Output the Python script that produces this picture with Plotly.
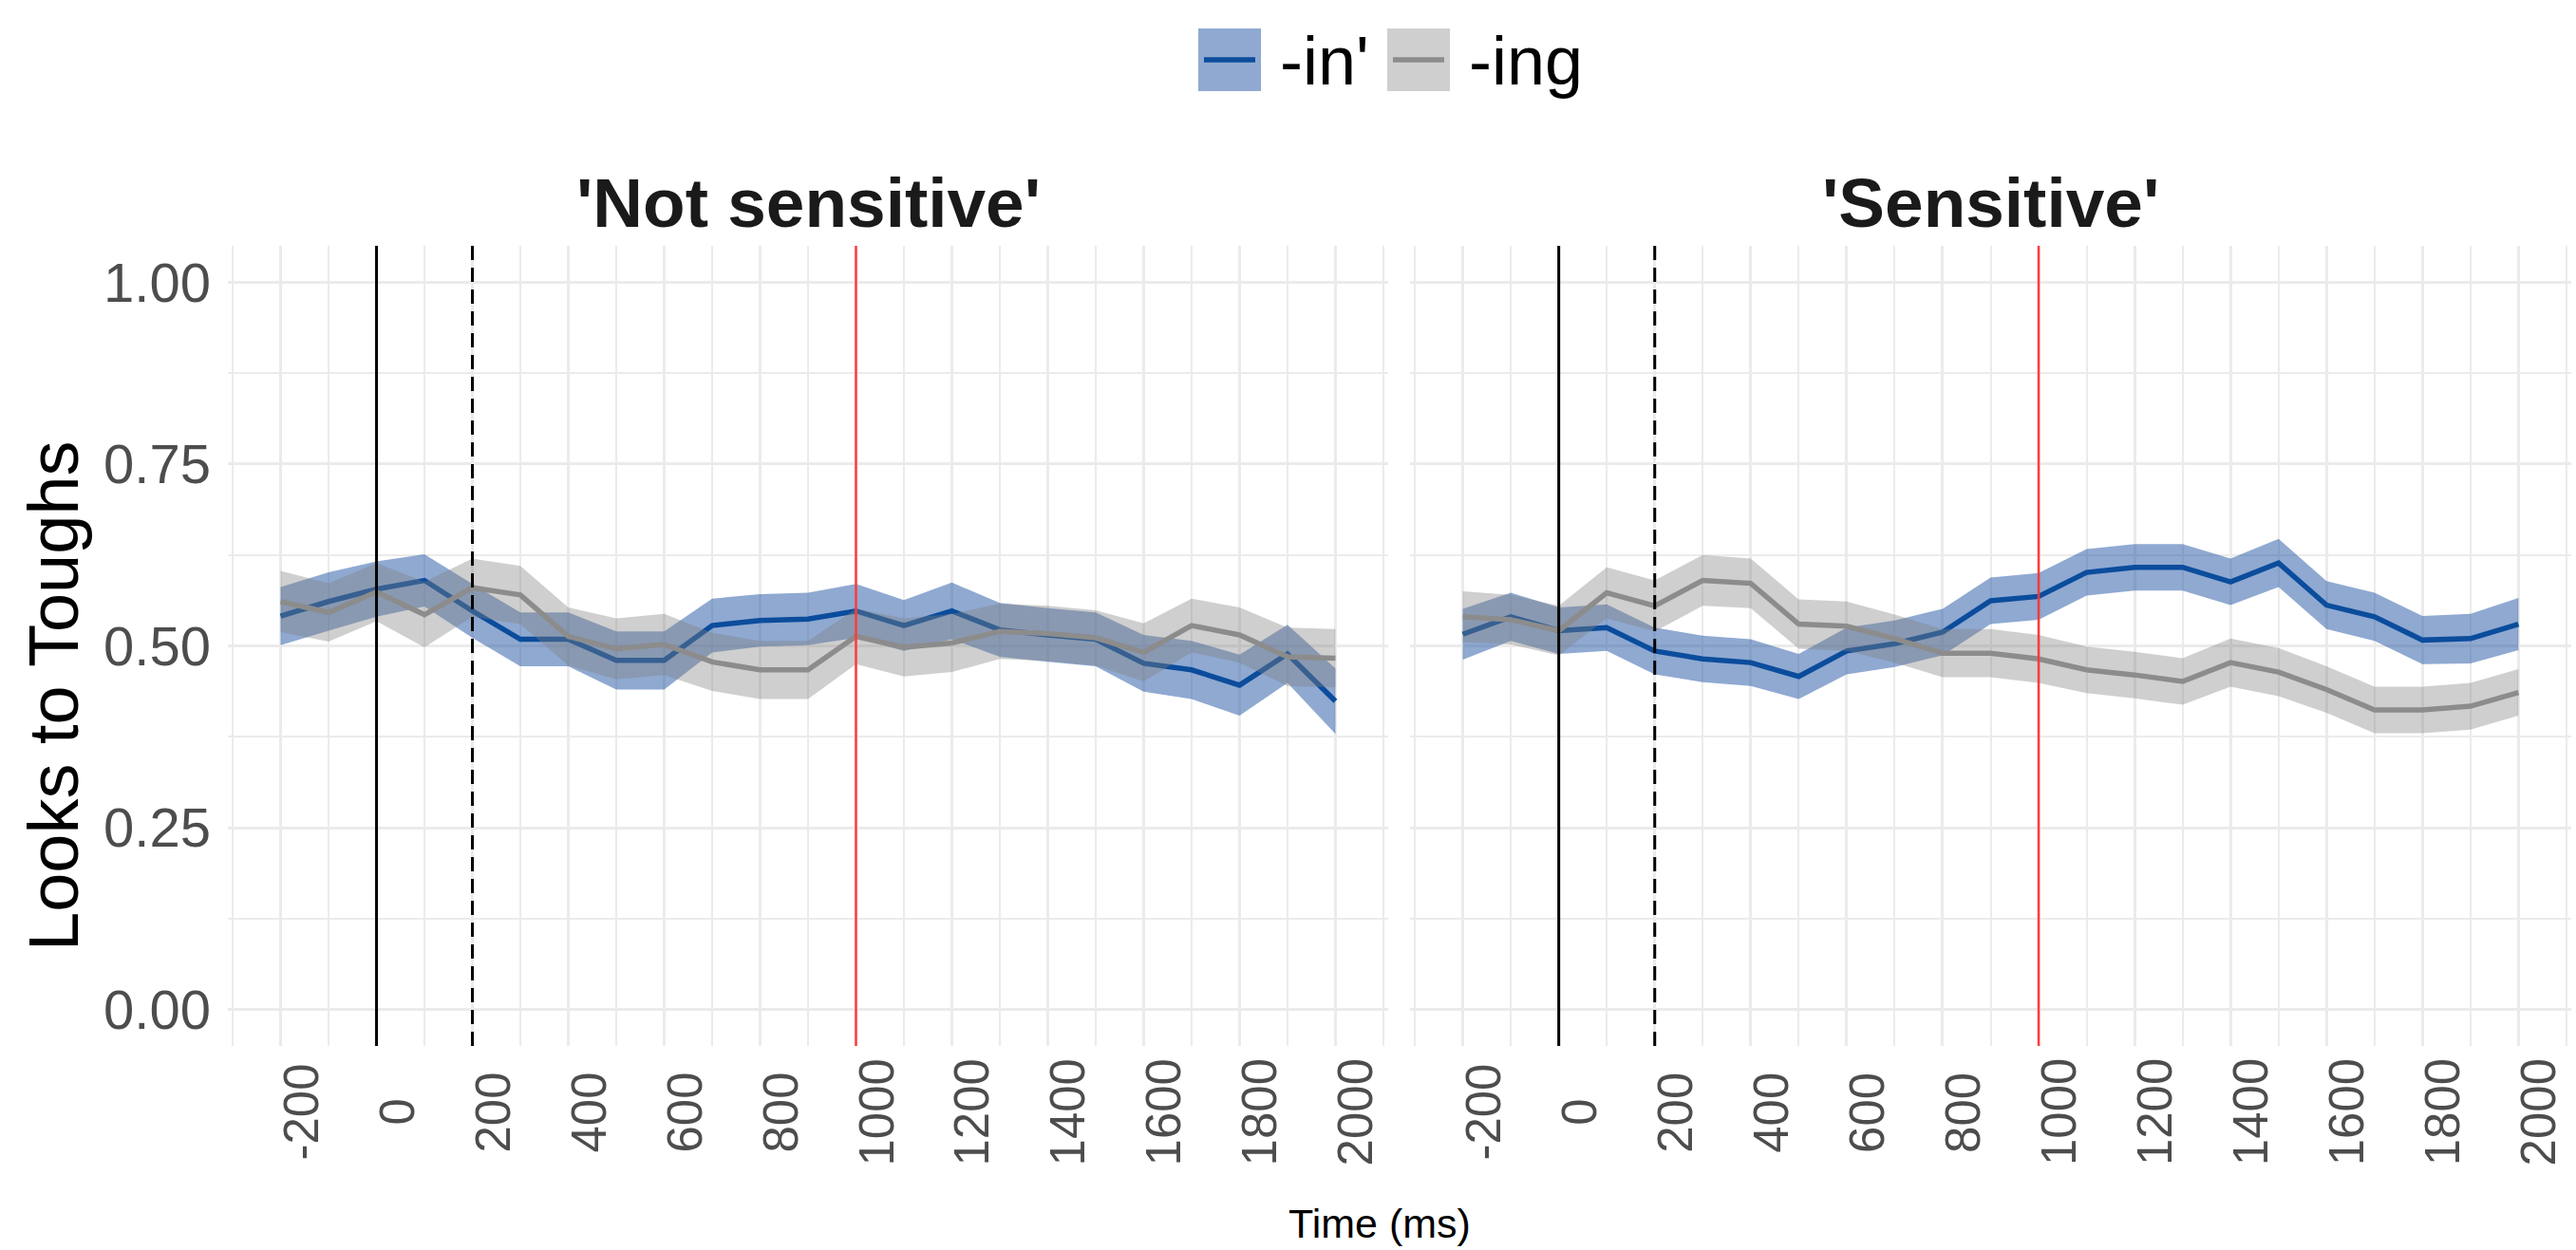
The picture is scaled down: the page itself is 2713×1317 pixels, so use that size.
import plotly.graph_objects as go

# ---------------- data ----------------
time_ms = [-200, -100, 0, 100, 200, 300, 400, 500, 600, 700, 800, 900, 1000,
           1100, 1200, 1300, 1400, 1500, 1600, 1700, 1800, 1900, 2000]

panels = ["'Not sensitive'", "'Sensitive'"]
series_names = ["-in'", "-ing"]

# 'Not sensitive'
ns_in_mean = [0.541, 0.561, 0.578, 0.590, 0.548, 0.509, 0.509, 0.480, 0.480, 0.528, 0.535, 0.537,
              0.548, 0.528, 0.548, 0.522, 0.515, 0.509, 0.476, 0.467, 0.446, 0.489, 0.424]
ns_in_hw = [0.040, 0.040, 0.038, 0.036, 0.037, 0.037, 0.037, 0.040, 0.040, 0.037, 0.036, 0.036,
            0.037, 0.035, 0.039, 0.037, 0.037, 0.037, 0.039, 0.040, 0.042, 0.040, 0.045]
ns_ing_mean = [0.561, 0.546, 0.574, 0.543, 0.580, 0.570, 0.513, 0.496, 0.502, 0.478, 0.467, 0.467,
               0.513, 0.498, 0.504, 0.520, 0.517, 0.511, 0.491, 0.528, 0.515, 0.485, 0.483]
ns_ing_hw = [0.042, 0.040, 0.040, 0.045, 0.040, 0.040, 0.040, 0.042, 0.042, 0.040, 0.040, 0.040,
             0.038, 0.040, 0.040, 0.038, 0.038, 0.038, 0.040, 0.037, 0.038, 0.040, 0.040]

# 'Sensitive'
s_in_mean = [0.516, 0.540, 0.521, 0.525, 0.493, 0.482, 0.477, 0.458, 0.493, 0.503, 0.519, 0.562,
             0.568, 0.601, 0.608, 0.608, 0.588, 0.614, 0.556, 0.540, 0.508, 0.510, 0.530]
s_in_hw = [0.035, 0.033, 0.032, 0.032, 0.032, 0.032, 0.032, 0.031, 0.032, 0.032, 0.032, 0.032,
           0.032, 0.032, 0.032, 0.032, 0.032, 0.033, 0.033, 0.033, 0.033, 0.034, 0.036]
s_ing_mean = [0.540, 0.536, 0.521, 0.573, 0.555, 0.590, 0.586, 0.530, 0.527, 0.510, 0.490, 0.490,
              0.482, 0.467, 0.460, 0.451, 0.477, 0.464, 0.440, 0.412, 0.412, 0.417, 0.436]
s_ing_hw = [0.035, 0.034, 0.034, 0.035, 0.035, 0.035, 0.034, 0.034, 0.034, 0.033, 0.033, 0.033,
            0.033, 0.032, 0.032, 0.032, 0.033, 0.033, 0.032, 0.032, 0.032, 0.032, 0.032]

x_tick_vals = [-200, 0, 200, 400, 600, 800, 1000, 1200, 1400, 1600, 1800, 2000]
x_tick_text = ["-200", "0", "200", "400", "600", "800", "1000", "1200", "1400", "1600", "1800", "2000"]
x_minor_vals = [-300, -100, 100, 300, 500, 700, 900, 1100, 1300, 1500, 1700, 1900, 2100]
y_tick_vals = [0, 0.25, 0.5, 0.75, 1.0]
y_tick_text = ["0.00", "0.25", "0.50", "0.75", "1.00"]
y_minor_vals = [0.125, 0.375, 0.625, 0.875]

onset_line = 0
offset_line = 200
red_line = 1000

# ---------------- style ----------------
W, H = 2713, 1317
FONT = "Liberation Sans, Arial, sans-serif"
BLUE = "#0B4C9C"
BLUE_FILL = "rgba(31,84,163,0.50)"
GRAY = "#8C8C8C"
GRAY_FILL = "rgba(128,128,128,0.38)"
GRID = "#EBEBEB"
TICKCOL = "#4D4D4D"

# panel domains (fractions of the page)
xdom = [[240 / W, 1462 / W], [1485 / W, 2708 / W]]
ydom = [1 - 1102 / H, 1 - 259 / H]

fig = go.Figure()

data = [
    [(ns_in_mean, ns_in_hw, BLUE, BLUE_FILL), (ns_ing_mean, ns_ing_hw, GRAY, GRAY_FILL)],
    [(s_in_mean, s_in_hw, BLUE, BLUE_FILL), (s_ing_mean, s_ing_hw, GRAY, GRAY_FILL)],
]

for p, panel_series in enumerate(data):
    xa = "x" if p == 0 else "x2"
    ya = "y" if p == 0 else "y2"
    for (mean, hw, lc, fc), name in zip(panel_series, series_names):
        upper = [m + h for m, h in zip(mean, hw)]
        lower = [m - h for m, h in zip(mean, hw)]
        fig.add_trace(go.Scatter(
            x=time_ms + time_ms[::-1], y=upper + lower[::-1],
            fill="toself", fillcolor=fc, mode="none", hoverinfo="skip",
            showlegend=False, xaxis=xa, yaxis=ya))
        fig.add_trace(go.Scatter(
            x=time_ms, y=mean, mode="lines", line=dict(color=lc, width=5.5),
            name=name, showlegend=False, xaxis=xa, yaxis=ya))

axis_common = dict(
    range=[-310, 2110], showline=False, zeroline=False, ticks="",
    tickmode="array", tickvals=x_tick_vals, showticklabels=False,
    showgrid=True, gridcolor=GRID, gridwidth=2.5,
    minor=dict(tickmode="array", tickvals=x_minor_vals, showgrid=True,
               gridcolor=GRID, gridwidth=2, ticks=""),
)
yaxis_common = dict(
    range=[-0.05, 1.05], showline=False, zeroline=False, ticks="",
    tickmode="array", tickvals=y_tick_vals, ticktext=y_tick_text,
    showgrid=True, gridcolor=GRID, gridwidth=2.5, domain=ydom,
    minor=dict(tickmode="array", tickvals=y_minor_vals, showgrid=True,
               gridcolor=GRID, gridwidth=2, ticks=""),
)

fig.update_layout(
    width=W, height=H, margin=dict(l=0, r=0, t=0, b=0),
    paper_bgcolor="white", plot_bgcolor="white",
    font=dict(family=FONT, color="black"),
    showlegend=False,
    xaxis=dict(domain=xdom[0], anchor="y", **axis_common),
    xaxis2=dict(domain=xdom[1], anchor="y2", **axis_common),
    yaxis=dict(anchor="x", showticklabels=True,
               tickfont=dict(size=58, color=TICKCOL, family=FONT),
               ticklabelstandoff=17, **yaxis_common),
    yaxis2=dict(anchor="x2", showticklabels=False, **yaxis_common),
)

shapes = []
annotations = []
for xa in ["x", "x2"]:
    yd = f"{'y' if xa == 'x' else 'y2'} domain"
    shapes.append(dict(type="line", xref=xa, yref=yd,
                       x0=onset_line, x1=onset_line, y0=0, y1=1, layer="above",
                       line=dict(color="black", width=3)))
    shapes.append(dict(type="line", xref=xa, yref=yd,
                       x0=offset_line, x1=offset_line, y0=0, y1=1, layer="above",
                       line=dict(color="black", width=3, dash="15px,8px")))
    shapes.append(dict(type="line", xref=xa, yref=yd,
                       x0=red_line, x1=red_line, y0=0, y1=1, layer="above",
                       line=dict(color="#FF3B3B", width=2.5)))
    # rotated x tick labels (ggplot-style, centred and nudged right)
    for v, t in zip(x_tick_vals, x_tick_text):
        annotations.append(dict(
            x=v, xref=xa, y=1 - 1172 / H, yref="paper", text=t, textangle=-90,
            showarrow=False, xanchor="center", yanchor="middle", xshift=21,
            font=dict(size=51, color=TICKCOL, family=FONT)))

# facet strip titles
for p, title in enumerate(panels):
    annotations.append(dict(
        x=(xdom[p][0] + xdom[p][1]) / 2, xref="paper", y=1 - 214 / H, yref="paper",
        text=f"<b>{title}</b>", showarrow=False, xanchor="center", yanchor="middle",
        font=dict(size=73, color="#1A1A1A", family=FONT)))

# axis titles
annotations.append(dict(x=56 / W, xref="paper", y=1 - 733 / H, yref="paper",
                        text="Looks to Toughs", textangle=-90, showarrow=False,
                        xanchor="center", yanchor="middle",
                        font=dict(size=74, color="black", family=FONT)))
annotations.append(dict(x=1453 / W, xref="paper", y=1 - 1289 / H, yref="paper",
                        text="Time (ms)", showarrow=False, xanchor="center", yanchor="middle",
                        font=dict(size=43, color="black", family=FONT)))

# legend (ggplot-style keys: filled square with a line through it)
legend_items = [(series_names[0], BLUE, BLUE_FILL, 1262), (series_names[1], GRAY, GRAY_FILL, 1461)]
for name, lc, fc, kx in legend_items:
    shapes.append(dict(type="rect", xref="paper", yref="paper",
                       x0=kx / W, x1=(kx + 66) / W, y0=1 - 96 / H, y1=1 - 30 / H,
                       fillcolor=fc, line=dict(width=0)))
    shapes.append(dict(type="line", xref="paper", yref="paper",
                       x0=(kx + 6) / W, x1=(kx + 60) / W, y0=1 - 63 / H, y1=1 - 63 / H,
                       line=dict(color=lc, width=5.5)))
    annotations.append(dict(x=(kx + 84) / W, xref="paper", y=1 - 64 / H, yref="paper",
                            text=name, showarrow=False, xanchor="left", yanchor="middle",
                            font=dict(size=72, color="black", family=FONT)))

fig.update_layout(shapes=shapes, annotations=annotations)

fig.write_html("out.html")
